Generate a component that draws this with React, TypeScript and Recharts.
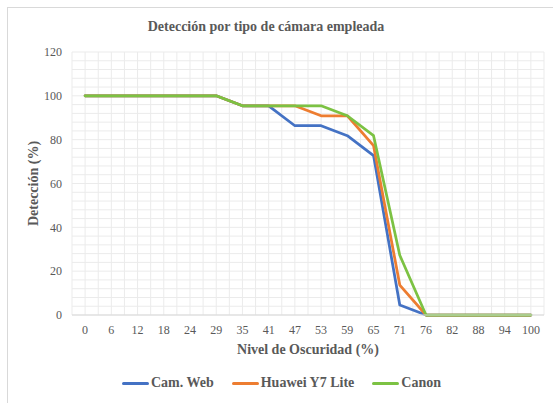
import React from 'react';
import { LineChart, Line, XAxis, YAxis, CartesianGrid, Legend, Label } from 'recharts';

const categories = ['0', '6', '12', '18', '24', '29', '35', '41', '47', '53', '59', '65', '71', '76', '82', '88', '94', '100'];
const camWeb = [100, 100, 100, 100, 100, 100, 95.45, 95.45, 86.36, 86.36, 81.82, 72.73, 4.55, 0, 0, 0, 0, 0];
const huawei = [100, 100, 100, 100, 100, 100, 95.45, 95.45, 95.45, 90.91, 90.91, 77.27, 13.64, 0, 0, 0, 0, 0];
const canon = [100, 100, 100, 100, 100, 100, 95.45, 95.45, 95.45, 95.45, 90.91, 81.82, 27.27, 0, 0, 0, 0, 0];
const yMajor = [0, 20, 40, 60, 80, 100, 120];
const yMinorStep = 4;

const seriesDefs = [
  { key: 'camWeb', name: 'Cam. Web', color: '#4472C4' },
  { key: 'huawei', name: 'Huawei Y7 Lite', color: '#ED7D31' },
  { key: 'canon', name: 'Canon', color: '#7CC243' },
];

const data = categories.map((c, i) => ({ i, label: c, camWeb: camWeb[i], huawei: huawei[i], canon: canon[i] }));

const xTicks: number[] = [];
categories.forEach((_, k) => { xTicks.push(k - 0.5); xTicks.push(k); });
xTicks.push(categories.length - 0.5);

const yMax = yMajor[yMajor.length - 1];
const yTicks: number[] = [];
for (let v = 0; v <= yMax; v += yMinorStep) yTicks.push(v);

const FONT = "'Liberation Serif', 'Times New Roman', Times, 'DejaVu Serif', serif";
const TEXT = '#595959';

const LegendContent = () => (
  <div style={{ display: 'flex', justifyContent: 'center', alignItems: 'center', paddingLeft: 19, fontFamily: FONT, fontWeight: 'bold', fontSize: 14, color: TEXT }}>
    {seriesDefs.map((s, idx) => (
      <div key={s.key} style={{ display: 'flex', alignItems: 'center', marginLeft: idx === 0 ? 0 : 18 }}>
        <div style={{ width: 27, height: 3, background: s.color, borderRadius: 1.5, marginRight: 2 }} />
        <span>{s.name}</span>
      </div>
    ))}
  </div>
);

export default function App() {
  return (
    <div style={{ position: 'absolute', left: 0, top: 0, width: 553, height: 403, background: '#fff', overflow: 'hidden', fontFamily: FONT }}>
      <div style={{ position: 'absolute', left: 7, top: 7, width: 560, height: 410, borderLeft: '1px solid #d9d9d9', borderTop: '1px solid #d9d9d9' }} />
      <div style={{ position: 'absolute', left: 0, top: 19, width: 532, textAlign: 'center', fontFamily: FONT, fontWeight: 'bold', fontSize: 14, color: TEXT }}>
        Detección por tipo de cámara empleada
      </div>
      <LineChart width={553} height={403} data={data} margin={{ top: 52, right: 9, bottom: 4, left: 0 }} style={{ position: 'absolute', left: 0, top: 0 }}>
        <CartesianGrid stroke="#ebebeb" strokeWidth={1} />
        <XAxis
          type="number"
          dataKey="i"
          domain={[-0.5, categories.length - 0.5]}
          ticks={xTicks}
          interval={0}
          tickFormatter={(v: number) => (Number.isInteger(v) ? categories[v] : '')}
          tickLine={false}
          tickSize={0}
          tickMargin={10}
          axisLine={{ stroke: '#d9d9d9' }}
          height={60}
          tick={{ fill: TEXT, fontSize: 12, fontFamily: FONT }}
        >
          <Label
            content={(props: any) => {
              const vb = props.viewBox || {};
              return (
                <text x={vb.x + vb.width / 2} y={vb.y + 34} dy="0.35em" textAnchor="middle" fill={TEXT} fontFamily={FONT} fontWeight="bold" fontSize={14}>
                  Nivel de Oscuridad (%)
                </text>
              );
            }}
          />
        </XAxis>
        <YAxis
          type="number"
          domain={[0, yMax]}
          ticks={yTicks}
          interval={0}
          tickFormatter={(v: number) => (yMajor.includes(v) ? String(v) : '')}
          tickLine={false}
          tickSize={0}
          tickMargin={10}
          axisLine={false}
          width={72}
          tick={{ fill: TEXT, fontSize: 12, fontFamily: FONT }}
        >
          <Label
            content={(props: any) => {
              const vb = props.viewBox || {};
              const cx = vb.x + 33;
              const cy = vb.y + vb.height / 2;
              return (
                <text x={cx} y={cy} dy="0.35em" textAnchor="middle" transform={`rotate(-90, ${cx}, ${cy})`} fill={TEXT} fontFamily={FONT} fontWeight="bold" fontSize={14}>
                  Detección (%)
                </text>
              );
            }}
          />
        </YAxis>
        <Legend verticalAlign="bottom" height={24} content={<LegendContent />} />
        {seriesDefs.map((s) => (
          <Line
            key={s.key}
            type="linear"
            dataKey={s.key}
            name={s.name}
            stroke={s.color}
            strokeWidth={2.75}
            strokeLinejoin="round"
            strokeLinecap="round"
            dot={false}
            activeDot={false}
            isAnimationActive={false}
          />
        ))}
      </LineChart>
    </div>
  );
}
